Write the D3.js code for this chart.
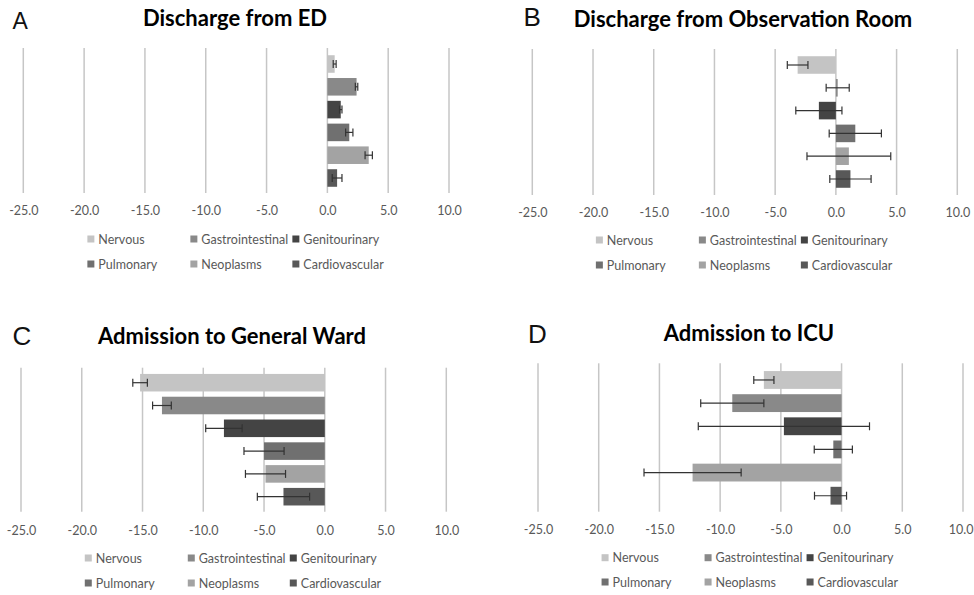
<!DOCTYPE html>
<html>
<head>
<meta charset="utf-8">
<script src="https://cdn.jsdelivr.net/npm/d3@7/dist/d3.min.js"></script>
<style>
  html, body { margin: 0; padding: 0; background: #ffffff; }
  svg { display: block; }
</style>
</head>
<body>
<svg id="chart" width="974" height="595"></svg>
<script>
// ---------- data ----------
const categories = ["Nervous", "Gastrointestinal", "Genitourinary", "Pulmonary", "Neoplasms", "Cardiovascular"];
const panelLetters = ["A", "B", "C", "D"];
const panelTitles = ["Discharge from ED", "Discharge from Observation Room", "Admission to General Ward", "Admission to ICU"];
const tickValues = [-25, -20, -15, -10, -5, 0, 5, 10];

const dischargeED     = [0.6, 2.4, 1.1, 1.8, 3.4, 0.8];
const dischargeEDErr  = [0.12, 0.1, 0.1, 0.3, 0.3, 0.4];
const dischargeObs    = [-3.15, 0.15, -1.4, 1.6, 1.07, 1.2];
const dischargeObsErr = [0.85, 0.95, 1.9, 2.15, 3.45, 1.7];
const admissionWard    = [-15.2, -13.4, -8.3, -5.0, -4.88, -3.4];
const admissionWardErr = [0.6, 0.77, 1.5, 1.65, 1.65, 2.15];
const admissionICU    = [-6.4, -9.0, -4.75, -0.68, -12.27, -0.91];
const admissionICUErr = [0.83, 2.6, 7.05, 1.57, 4.0, 1.32];

const seriesValues = [dischargeED, dischargeObs, admissionWard, admissionICU];
const seriesErrors = [dischargeEDErr, dischargeObsErr, admissionWardErr, admissionICUErr];

// ---------- styles / layout ----------
const colors = ["#c4c4c4", "#898989", "#444444", "#707070", "#a3a3a3", "#585858"];
const layouts = [
  { x0: 23.3, x1: 449.0, gy0: 48.0,  gy1: 193.0, by0: 52.6,  by1: 189.4, titleX: 235, titleY: 26,  letterX: 12.5, letterY: 29.3, letterSize: 23, tickY: 215, legY: [239, 264] },
  { x0: 532.3, x1: 957.3, gy0: 49.0, gy1: 195.0, by0: 53.6,  by1: 190.4, titleX: 743, titleY: 26.5, letterX: 523.5, letterY: 26, letterSize: 26, tickY: 217, legY: [240, 265] },
  { x0: 21.0, x1: 446.3, gy0: 367.7, gy1: 511.7, by0: 371.3, by1: 508.1, titleX: 232, titleY: 344, letterX: 12.5, letterY: 345, letterSize: 26, tickY: 535, legY: [558, 583] },
  { x0: 538.0, x1: 963.0, gy0: 363.3, gy1: 511.7, by0: 368.4, by1: 507.3, titleX: 749, titleY: 341, letterX: 528, letterY: 343.3, letterSize: 26, tickY: 534, legY: [557.7, 582] }
];
const legendCols = [-240, -137, -35];
const W = 974;

const svg = d3.select("#chart");

panelTitles.forEach((title, p) => {
  const L = layouts[p];
  const g = svg.append("g");
  const x = d3.scaleLinear().domain([-25, 10]).range([L.x0, L.x1]);
  const y = d3.scaleBand().domain(categories).range([L.by0, L.by1]).paddingInner(0.23).paddingOuter(0.115);

  // panel letter
  g.append("text")
    .attr("x", L.letterX).attr("y", L.letterY)
    .attr("font-family", "Liberation Sans, Arial, sans-serif")
    .attr("font-size", L.letterSize).attr("fill", "#111")
    .text(panelLetters[p]);

  // title
  g.append("text")
    .attr("x", L.titleX).attr("y", L.titleY)
    .attr("text-anchor", "middle")
    .attr("font-family", "Lato, sans-serif").attr("font-weight", "bold")
    .attr("font-size", 22).attr("fill", "#000")
    .text(title);

  // gridlines
  g.append("g").selectAll("line").data(tickValues).join("line")
    .attr("x1", d => x(d)).attr("x2", d => x(d))
    .attr("y1", L.gy0).attr("y2", L.gy1)
    .attr("stroke", "#c6c6c6").attr("stroke-width", 1.5);

  // tick labels via axis
  const axis = d3.axisBottom(x).tickValues(tickValues).tickSize(0).tickPadding(0)
    .tickFormat(d => d.toFixed(1));
  const ax = g.append("g").attr("transform", `translate(0,${L.tickY - 9})`).call(axis);
  ax.select(".domain").remove();
  ax.selectAll("text")
    .attr("font-family", "Lato, sans-serif").attr("font-size", 12.5).attr("fill", "#595959");
  // keep labels inside the picture
  ax.selectAll(".tick").each(function(d) {
    const t = d3.select(this).select("text");
    const w = t.node().getComputedTextLength();
    const right = x(d) + w / 2;
    if (right > W - 1) t.attr("dx", (W - 1 - right));
  });

  const vals = seriesValues[p];
  const errs = seriesErrors[p];
  const rows = categories.map((c, i) => ({ c, v: vals[i], e: errs[i], color: colors[i] }));

  // bars
  g.append("g").selectAll("rect").data(rows).join("rect")
    .attr("x", d => x(Math.min(0, d.v)))
    .attr("width", d => Math.abs(x(d.v) - x(0)))
    .attr("y", d => y(d.c))
    .attr("height", y.bandwidth())
    .attr("fill", d => d.color);

  // error bars
  const eg = g.append("g").attr("stroke", "#333333").attr("stroke-width", 1.2);
  rows.forEach(d => {
    const cy = y(d.c) + y.bandwidth() / 2;
    eg.append("line").attr("x1", x(d.v - d.e)).attr("x2", x(d.v + d.e)).attr("y1", cy).attr("y2", cy);
    eg.append("line").attr("x1", x(d.v - d.e)).attr("x2", x(d.v - d.e)).attr("y1", cy - 4).attr("y2", cy + 4);
    eg.append("line").attr("x1", x(d.v + d.e)).attr("x2", x(d.v + d.e)).attr("y1", cy - 4).attr("y2", cy + 4);
  });

  // legend
  const lg = g.append("g");
  categories.forEach((c, i) => {
    const col = i % 3, row = Math.floor(i / 3);
    const lx = x(0) + legendCols[col];
    const ly = L.legY[row];
    lg.append("rect").attr("x", lx).attr("y", ly - 3.5).attr("width", 7).attr("height", 7).attr("fill", colors[i]);
    lg.append("text").attr("x", lx + 11).attr("y", ly + 4.5)
      .attr("font-family", "Lato, sans-serif").attr("font-size", 12.5).attr("fill", "#595959")
      .text(c);
  });
});
</script>
</body>
</html>
